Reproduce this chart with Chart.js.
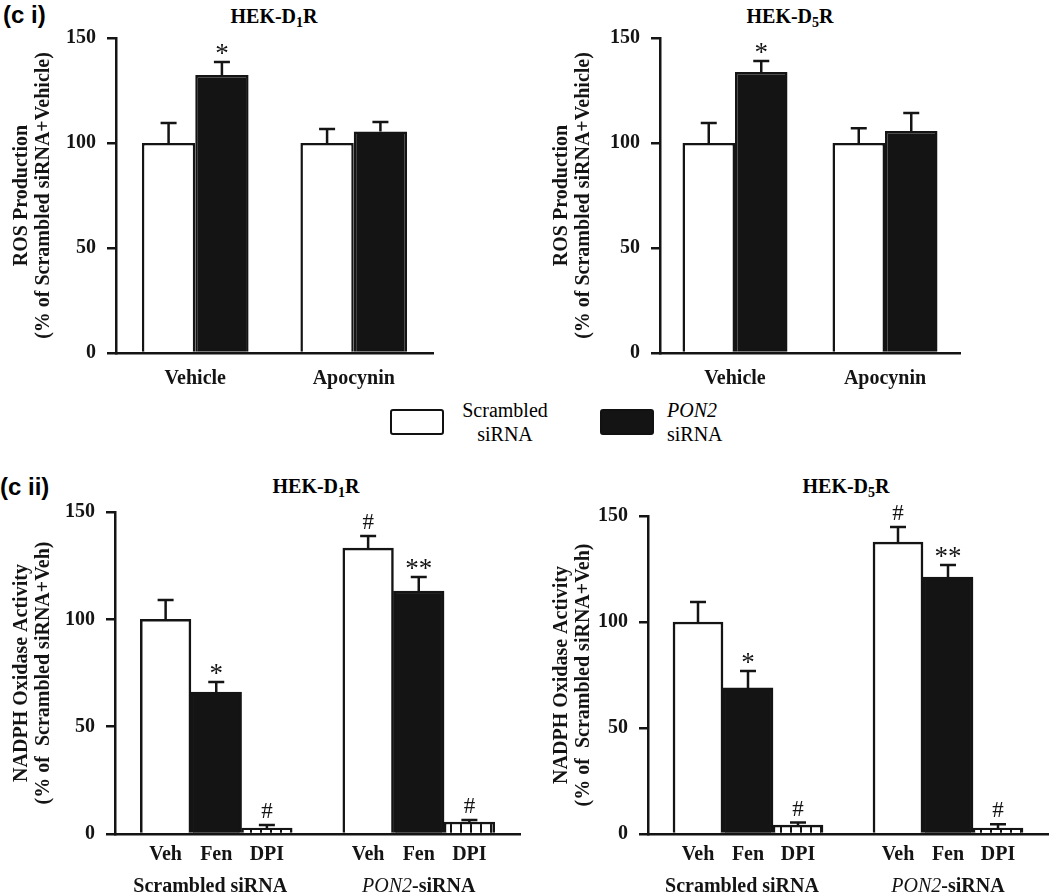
<!DOCTYPE html>
<html>
<head>
<meta charset="utf-8">
<script src="https://cdn.jsdelivr.net/npm/chart.js@4.4.1/dist/chart.umd.min.js"></script>
<style>
  body{margin:0;background:#fff;width:1050px;height:893px;position:relative;overflow:hidden;font-family:"Liberation Serif",serif;}
  .box{position:absolute;}
  .panel{position:absolute;font:bold 24px "Liberation Sans",Arial,sans-serif;line-height:24px;}
  .title{position:absolute;font:bold 20px "Liberation Serif",serif;transform:translate(-50%,-50%);white-space:nowrap;}
  .title sub{font-size:14px;vertical-align:-4px;line-height:0;}
  .lg-sw{position:absolute;width:50px;height:22px;border:2.5px solid #111;border-radius:3px;}
  .lg-tx{position:absolute;font:20px "Liberation Serif",serif;line-height:24px;text-align:center;}
</style>
</head>
<body>
<div class="panel" style="left:3px;top:3px">(c i)</div>
<div class="panel" style="left:0;top:475px">(c ii)</div>
<div class="title" style="left:274px;top:16px">HEK-D<sub>1</sub>R</div>
<div class="title" style="left:790px;top:16px">HEK-D<sub>5</sub>R</div>
<div class="title" style="left:316px;top:486px">HEK-D<sub>1</sub>R</div>
<div class="title" style="left:846px;top:486px">HEK-D<sub>5</sub>R</div>

<div class="lg-sw" style="left:390px;top:409px;background:#fff"></div>
<div class="lg-tx" style="left:455px;top:398px;width:100px">Scrambled<br>siRNA</div>
<div class="lg-sw" style="left:600px;top:409px;background:#141414"></div>
<div class="lg-tx" style="left:667px;top:398px;text-align:left"><i>PON2</i><br>siRNA</div>

<div class="box" style="left:0;top:0"><canvas id="rosD1" width="450" height="400"></canvas></div>
<div class="box" style="left:540px;top:0"><canvas id="rosD5" width="440" height="400"></canvas></div>
<div class="box" style="left:0;top:470px"><canvas id="noxD1" width="525" height="423"></canvas></div>
<div class="box" style="left:540px;top:470px"><canvas id="noxD5" width="510" height="423"></canvas></div>

<script>
// ---------- DATA ----------
const rosGroups = ["Vehicle", "Apocynin"];
const rosD1Scr = [100, 100];
const rosD1ScrErr = [9.5, 6.7];
const rosD1Pon = [132.4, 105.5];
const rosD1PonErr = [6.2, 4.5];
const rosD5Scr = [100, 100];
const rosD5ScrErr = [9.5, 7];
const rosD5Pon = [133.8, 105.7];
const rosD5PonErr = [5.2, 8.6];
const rosPonMarks = ["*", ""];

const treatLabels = ["Veh", "Fen", "DPI"];
const groupLabels = ["Scrambled siRNA", "PON2-siRNA"];
const noxD1 = [100, 66.1, 2.8, 133.2, 113.2, 5.6];
const noxD1Err = [9, 4.7, 1.4, 5.6, 6.5, 0.9];
const noxD5 = [100, 68.9, 4.2, 137.7, 121.2, 2.8];
const noxD5Err = [9.4, 8, 1.2, 7.1, 5.7, 1.8];
const noxMarks = ["", "*", "#", "#", "**", "#"];

const yTicks = [0, 50, 100, 150];

// ---------- STYLE ----------
const INK = "#141414";
const SERIF = "'Liberation Serif', 'Times New Roman', serif";

const hatch = (() => {
  const c = document.createElement("canvas");
  c.width = 10; c.height = 10;
  const g = c.getContext("2d");
  g.fillStyle = "#fff"; g.fillRect(0, 0, 10, 10);
  g.fillStyle = INK; g.fillRect(0, 0, 2, 10);
  return g.createPattern(c, "repeat");
})();

// error bars + significance marks
const errorBars = {
  id: "errorBars",
  afterDatasetsDraw(chart){
    const ctx = chart.ctx, y = chart.scales.y;
    chart.data.datasets.forEach((ds, di) => {
      const meta = chart.getDatasetMeta(di);
      meta.data.forEach((bar, i) => {
        const v = ds.data[i];
        if(v == null) return;
        const top = y.getPixelForValue(v + ds.errors[i]);
        ctx.save();
        ctx.strokeStyle = INK; ctx.lineWidth = 2.5;
        ctx.beginPath();
        ctx.moveTo(bar.x, bar.y); ctx.lineTo(bar.x, top);
        ctx.moveTo(bar.x - 8, top); ctx.lineTo(bar.x + 8, top);
        ctx.stroke();
        const m = ds.marks && ds.marks[i];
        if(m){
          ctx.fillStyle = INK;
          ctx.font = (m[0] === "*" ? "27px " : "23px ") + SERIF;
          ctx.textAlign = "center";
          ctx.textBaseline = "alphabetic";
          ctx.fillText(m, bar.x, top - (m[0] === "*" ? 0 : 7));
        }
        ctx.restore();
      });
    });
  }
};

// group names under the treatment ticks
const groupNames = {
  id: "groupNames",
  afterDraw(chart){
    if(!chart.options.plugins.groupNames) return;
    const ctx = chart.ctx, x = chart.scales.x;
    const yPos = chart.chartArea.bottom + 53;
    ctx.save();
    ctx.fillStyle = INK;
    ctx.textBaseline = "middle";
    ctx.textAlign = "left";
    ctx.font = "bold 20px " + SERIF;
    let w = ctx.measureText(groupLabels[0]).width;
    ctx.fillText(groupLabels[0], x.getPixelForValue(2) - 6 - w / 2, yPos);
    // second group, gene name in italics
    const [gene, rest] = groupLabels[1].split(/(?=-)/);
    ctx.font = "italic 20px " + SERIF;
    const wg = ctx.measureText(gene).width;
    ctx.font = "bold 20px " + SERIF;
    const wr = ctx.measureText(rest).width;
    const x0 = x.getPixelForValue(6) - (wg + wr) / 2;
    ctx.font = "italic 20px " + SERIF;
    ctx.fillText(gene, x0, yPos);
    ctx.font = "bold 20px " + SERIF;
    ctx.fillText(rest, x0 + wg, yPos);
    ctx.restore();
  }
};

function yScale(width, title){
  return {
    min: 0, max: 150,
    afterFit(s){ s.width = width; },
    afterBuildTicks(s){ s.ticks = yTicks.map(v => ({value: v})); },
    ticks: {color: INK, padding: 11, font: {family: SERIF, size: 20, weight: "bold"}},
    grid: {display: true, drawOnChartArea: false, drawTicks: true, tickLength: 9, lineWidth: 2.5, color: INK},
    border: {display: true, width: 2.5, color: INK},
    title: {display: true, text: title, color: INK, padding: {top: 11, bottom: 0},
      font: {family: SERIF, size: 20, weight: "bold", lineHeight: "22px"}}
  };
}

function rosChart(id, yWidth, padRight, catPct, scr, scrErr, pon, ponErr){
  new Chart(document.getElementById(id), {
    type: "bar",
    data: {
      labels: rosGroups,
      datasets: [
        {data: scr, errors: scrErr, backgroundColor: "#fff", borderColor: INK, borderWidth: 2.5},
        {data: pon, errors: ponErr, marks: rosPonMarks, backgroundColor: INK, borderColor: INK, borderWidth: 2.5}
      ]
    },
    options: {
      responsive: false, animation: false,
      layout: {padding: {top: 38, right: padRight, bottom: 0, left: 0}},
      datasets: {bar: {barPercentage: 1, categoryPercentage: catPct, borderSkipped: "start"}},
      plugins: {legend: {display: false}, tooltip: {enabled: false}},
      scales: {
        x: {
          afterFit(s){ s.height = 47; },
          grid: {display: false},
          border: {display: true, width: 2.5, color: INK},
          ticks: {color: INK, padding: 6, font: {family: SERIF, size: 20, weight: "bold"}}
        },
        y: yScale(yWidth, ["ROS Production", "(% of Scrambled siRNA+Vehicle)"])
      }
    },
    plugins: [errorBars]
  });
}

function noxChart(id, yWidth, padTop, padRight, vals, errs){
  const labels = ["", ...treatLabels, "", ...treatLabels, ""];
  const data = [null, ...vals.slice(0, 3), null, ...vals.slice(3), null];
  const errors = [0, ...errs.slice(0, 3), 0, ...errs.slice(3), 0];
  const marks = ["", ...noxMarks.slice(0, 3), "", ...noxMarks.slice(3), ""];
  const fills = ["#fff", "#fff", INK, hatch, "#fff", "#fff", INK, hatch, "#fff"];
  new Chart(document.getElementById(id), {
    type: "bar",
    data: {
      labels,
      datasets: [{data, errors, marks, backgroundColor: fills, borderColor: INK, borderWidth: 2.5}]
    },
    options: {
      responsive: false, animation: false,
      layout: {padding: {top: padTop, right: padRight, bottom: 0, left: 0}},
      datasets: {bar: {barPercentage: 1, categoryPercentage: 1, borderSkipped: "start"}},
      plugins: {legend: {display: false}, tooltip: {enabled: false}, groupNames: true},
      scales: {
        x: {
          offset: false,
          afterFit(s){ s.height = 59; },
          grid: {display: false},
          border: {display: true, width: 2.5, color: INK},
          ticks: {color: INK, padding: 1, autoSkip: false, maxRotation: 0, font: {family: SERIF, size: 20, weight: "bold"}}
        },
        y: yScale(yWidth, ["NADPH Oxidase Activity", "(% of  Scrambled siRNA+Veh)"])
      }
    },
    plugins: [errorBars, groupNames]
  });
}

rosChart("rosD1", 116, 17, 0.673, rosD1Scr, rosD1ScrErr, rosD1Pon, rosD1PonErr);
rosChart("rosD5", 120, 20, 0.70, rosD5Scr, rosD5ScrErr, rosD5Pon, rosD5PonErr);
noxChart("noxD1", 115, 42, 5, noxD1, noxD1Err);
noxChart("noxD5", 108, 46, 2, noxD5, noxD5Err);
</script>
</body>
</html>
